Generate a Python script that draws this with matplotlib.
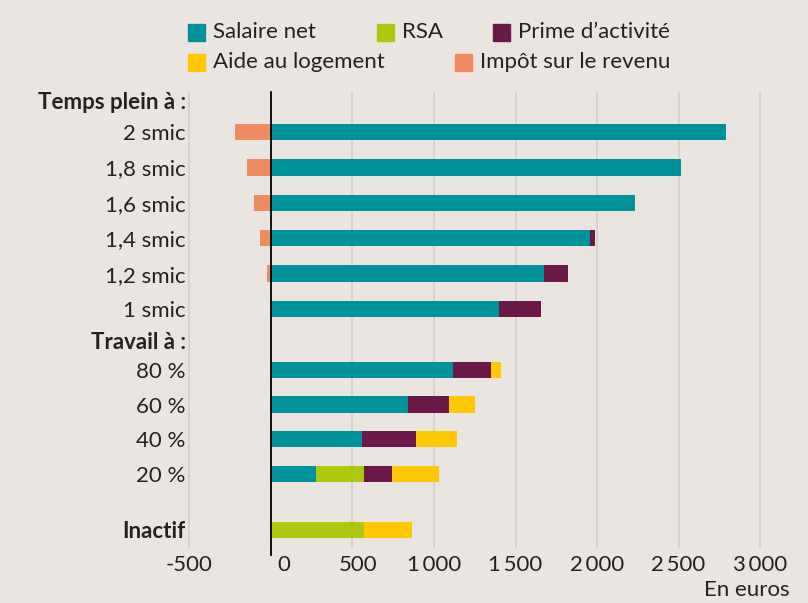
import matplotlib.pyplot as plt
from matplotlib.patches import Rectangle
from matplotlib.transforms import ScaledTranslation

plt.rcParams['font.family'] = ['Lato', 'DejaVu Sans']

# data (euros per month)
categories = ['2 smic', '1,8 smic', '1,6 smic', '1,4 smic', '1,2 smic', '1 smic',
              '80 %', '60 %', '40 %', '20 %', 'Inactif']
salaire = [2790, 2515, 2235, 1955, 1675, 1400, 1115, 840, 560, 275, 0]
rsa = [0, 0, 0, 0, 0, 0, 0, 0, 0, 295, 570]
prime = [0, 0, 0, 35, 150, 255, 235, 250, 330, 170, 0]
logement = [0, 0, 0, 0, 0, 0, 60, 160, 250, 290, 295]
impot = [-220, -150, -105, -65, -25, 0, 0, 0, 0, 0, 0]

series = [('Salaire net', salaire, '#00929a'),
          ('RSA', rsa, '#adc80f'),
          ('Prime d\u2019activité', prime, '#6b1748'),
          ('Aide au logement', logement, '#ffc800'),
          ('Impôt sur le revenu', impot, '#f08a60')]

headers = ['Temps plein à :', 'Travail à :']
xticks = [-500, 0, 500, 1000, 1500, 2000, 2500, 3000]
xticklabels = ['-500', '0', '500', '1\u2009000', '1\u2009500', '2\u2009000',
               '2\u2009500', '3\u2009000']

# layout
ypos = [0, 1, 2, 3, 4, 5, 6.72, 7.7, 8.68, 9.66, 11.24]
header_pos = [-0.88, 5.88]
bg = '#ebe5e2'
txt = '#222222'
fs = 16

fig = plt.figure(figsize=(8.08, 6.03), dpi=100, facecolor=bg)
ax = fig.add_axes([165 / 808, 1 - 548 / 603, 635 / 808, 456 / 603], facecolor=bg)

left = [0] * len(categories)
for name, vals, color in series:
    if name.startswith('Impôt'):
        ax.barh(ypos, vals, height=0.46, color=color, zorder=3)
        continue
    ax.barh(ypos, vals, left=left, height=0.46, color=color, zorder=3)
    left = [l + v for l, v in zip(left, vals)]

ax.set_xlim(-650, 3245)
ax.set_ylim(11.75, -1.13)

for x in xticks:
    if x != 0:
        ax.axvline(x, color='#d9d3d0', lw=1.4, zorder=1)
ax.axvline(0, color='black', lw=1.3, zorder=4, ymin=-0.015, clip_on=False)

for s in ax.spines.values():
    s.set_visible(False)

ax.set_xticks(xticks)
ax.set_xticklabels(xticklabels, fontsize=fs, color=txt)
ax.tick_params(axis='x', length=0, pad=5)
# the "0" and "500" labels sit a bit right of their gridlines in the original
for lab, dx in zip(ax.get_xticklabels()[1:3], [13, 6]):
    lab.set_transform(lab.get_transform() + ScaledTranslation(dx / 100, 0, fig.dpi_scale_trans))

yt = ypos + header_pos
ytl = categories + headers
ax.set_yticks(yt)
ax.set_yticklabels(ytl, fontsize=fs, color=txt)
ax.tick_params(axis='y', length=0, pad=-15)
for lab in ax.get_yticklabels():
    if lab.get_text() in headers or lab.get_text() == 'Inactif':
        lab.set_fontweight('bold')

fig.text(790 / 808, 1 - 590 / 603, 'En euros', ha='right', va='center',
         fontsize=fs, color=txt)

# legend drawn by hand (irregular layout)
legend_pos = [(188, 32), (377, 32), (493, 32), (188, 62), (455, 62)]
for (name, vals, color), (px, py) in zip(series, legend_pos):
    fig.patches.append(Rectangle((px / 808, 1 - (py + 8.5) / 603), 17 / 808, 17 / 603,
                                 transform=fig.transFigure, color=color))
    fig.text((px + 25) / 808, 1 - py / 603, name, ha='left', va='center',
             fontsize=fs, color=txt)

fig.savefig('out.png', dpi=100, facecolor=bg)
